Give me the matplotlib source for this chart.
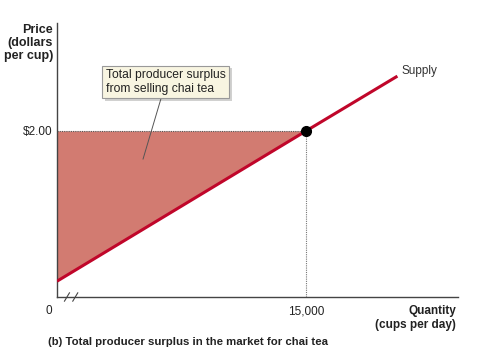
import matplotlib.pyplot as plt
import matplotlib.patheffects as pe
import numpy as np

plt.rcParams['font.family'] = ['Liberation Sans', 'DejaVu Sans']

# supply curve (cups per day, dollars per cup)
supply_q = [0, 15000, 20500]
supply_p = [0.19, 2.00, 2.66]
eq_q = 15000
eq_p = 2.00
xticks = [15000]
xticklabels = ['15,000']
yticks = [2.00]
yticklabels = ['$2.00']

red = '#c0062a'
fill = '#d27b71'
txt = '#222222'

fig = plt.figure(figsize=(4.82, 3.59), dpi=100)
ax = fig.add_axes([57/482, 1-297/359, (458-57)/482, (297-23)/359])
ax.set_xlim(0, 24150)
ax.set_ylim(0, 3.30)

# surplus triangle
ax.fill_between([0, eq_q], [supply_p[0], eq_p], [eq_p, eq_p], color=fill, lw=0, zorder=1)
ax.plot([0, eq_q], [eq_p, eq_p], color='#555555', ls=(0, (1, 1)), lw=0.8, zorder=2)
ax.plot([eq_q, eq_q], [0, eq_p], color='#777777', ls=(0, (1, 1)), lw=0.8, zorder=2)
ax.plot(supply_q, supply_p, color=red, lw=2.2, zorder=3, solid_capstyle='butt')
ax.plot([eq_q], [eq_p], 'o', color='black', ms=7, zorder=4)

for s in ['top', 'right']:
    ax.spines[s].set_visible(False)
for s in ['left', 'bottom']:
    ax.spines[s].set_color('#444444')
    ax.spines[s].set_linewidth(1.0)

ax.set_xticks(xticks)
ax.set_xticklabels(xticklabels, fontsize=8.5, color=txt)
ax.set_yticks(yticks)
ax.set_yticklabels(yticklabels, fontsize=8.5, color=txt)
ax.tick_params(axis='x', length=0, pad=6)
ax.tick_params(axis='y', length=0, pad=3)

# axis break marks
for xb in [600, 1100]:
    ax.plot([xb - 150, xb + 150], [-0.05, 0.05], color='#444444', lw=0.8, clip_on=False)

ax.text(-0.012, -0.03, '0', transform=ax.transAxes, ha='right', va='top', fontsize=8.5, color=txt)
ax.text(-0.01, 0.995, 'Price\n(dollars\nper cup)', transform=ax.transAxes, ha='right', va='top',
        fontsize=9, fontweight='bold', color=txt, linespacing=1.1)
ax.text(0.995, -0.03, 'Quantity\n(cups per day)', transform=ax.transAxes, ha='right', va='top',
        fontsize=8.5, fontweight='bold', color=txt, linespacing=1.15)
ax.text(20750, 2.72, 'Supply', fontsize=8.5, color='#333333', ha='left', va='center')

# callout box
ann = ax.annotate('Total producer surplus\nfrom selling chai tea', xy=(5180, 1.66), xytext=(2950, 2.59),
                  fontsize=8.7, color=txt, ha='left', va='center', linespacing=1.15,
                  bbox=dict(boxstyle='square,pad=0.3', fc='#f8f5e1', ec='#999999', lw=0.8),
                  arrowprops=dict(arrowstyle='-', color='#555555', lw=0.7, shrinkA=0, shrinkB=0,
                                  relpos=(0.5, 0.5)))
ann.get_bbox_patch().set_path_effects([pe.withSimplePatchShadow(offset=(2, -2), alpha=0.25)])

fig.text(48/482, 1-342/359, '(b) Total producer surplus in the market for chai tea',
         fontsize=8.2, fontweight='bold', color=txt, ha='left', va='center')

fig.savefig('out.png', dpi=100)
